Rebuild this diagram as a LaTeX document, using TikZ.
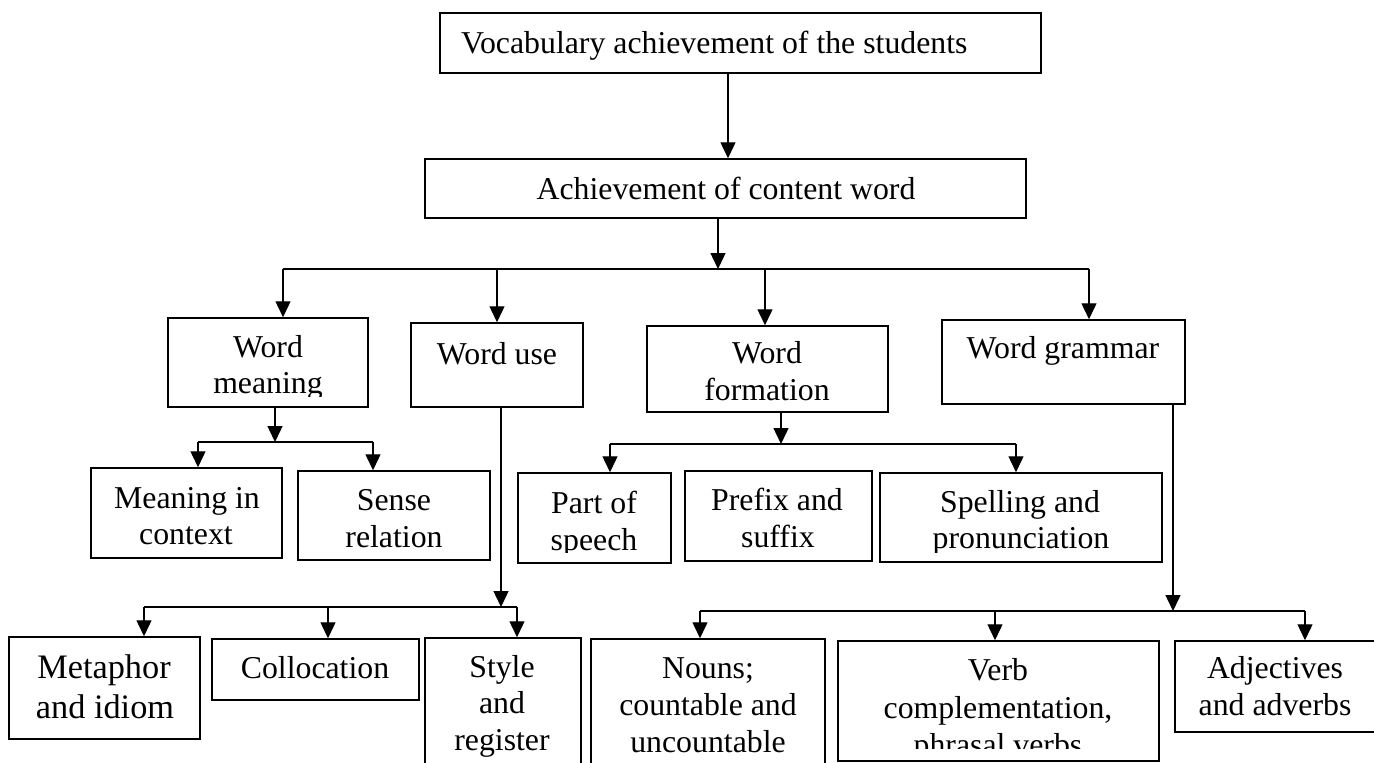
\documentclass[tikz,border=0pt]{standalone}
\usepackage{fontspec}
\setmainfont{Liberation Serif}
\usetikzlibrary{arrows.meta}
\tikzset{
  box/.style={draw, line width=1.5pt, rectangle, inner sep=0pt},
  txt/.style={inner sep=0pt, anchor=base, font=\fontsize{31.8}{36}\selectfont},
  bigtxt/.style={inner sep=0pt, anchor=base, font=\fontsize{34.3}{40}\selectfont},
  ln/.style={line width=1.4pt},
  arr/.style={line width=1.4pt, -{Triangle[length=16pt,width=15pt]}},
}
\begin{document}
\begin{tikzpicture}[x=1pt,y=-1pt]
\useasboundingbox (0,0) rectangle (1374,763);
\clip (0,0) rectangle (1374,763);
\fill[white] (0,0) rectangle (1374,763);

% ---------- boxes ----------
\node[box, minimum width=601pt, minimum height=60pt] (vocab) at (740.5,43) {};
\node[box, minimum width=601pt, minimum height=59pt] (ach) at (725.5,188.5) {};
\node[box, minimum width=200pt, minimum height=89pt] (wm) at (268,362.5) {};
\node[box, minimum width=172pt, minimum height=84pt] (wu) at (497,365) {};
\node[box, minimum width=241pt, minimum height=86pt] (wf) at (767.5,369) {};
\node[box, minimum width=243pt, minimum height=84pt] (wg) at (1063.5,362) {};
\node[box, minimum width=191pt, minimum height=90pt] (mic) at (186.5,513) {};
\node[box, minimum width=192pt, minimum height=89pt] (sr) at (394,515.5) {};
\node[box, minimum width=153pt, minimum height=90pt] (pos) at (594.5,518) {};
\node[box, minimum width=187pt, minimum height=90pt] (pfx) at (778.5,516) {};
\node[box, minimum width=282pt, minimum height=89pt] (sp) at (1021,517.5) {};
\node[box, minimum width=191pt, minimum height=102pt] (met) at (104.5,688) {};
\node[box, minimum width=207pt, minimum height=61pt] (col) at (315.5,669.5) {};
\node[box, minimum width=156pt, minimum height=142pt] (sty) at (503,709) {};
\node[box, minimum width=234pt, minimum height=141pt] (nou) at (708,709.5) {};
\node[box, minimum width=321pt, minimum height=120pt] (verb) at (998.5,701) {};
\node[box, minimum width=215pt, minimum height=91pt] (adj) at (1282.5,686.5) {};

% ---------- texts ----------
\node[txt, anchor=base west] (vocab-t) at (461,53) {Vocabulary achievement of the students};
\node[txt] (ach-t) at (726,199) {Achievement of content word};
\node[txt] (wm-t1) at (268,357) {Word};
\begin{scope}
  \clip (168,318) rectangle (368,396);
  \node[txt] (wm-t2) at (268,393) {meaning};
\end{scope}
\node[txt] (wu-t) at (497,364) {Word use};
\node[txt] (wf-t1) at (767,363) {Word};
\node[txt] (wf-t2) at (767,400) {formation};
\node[txt] (wg-t) at (1063,358) {Word grammar};
\node[txt] (mic-t1) at (187,508) {Meaning in};
\node[txt] (mic-t2) at (186,544) {context};
\node[txt] (sr-t1) at (394,510) {Sense};
\node[txt] (sr-t2) at (394,547) {relation};
\node[txt] (pos-t1) at (594,513) {Part of};
\begin{scope}
  \clip (518,473) rectangle (671,552);
  \node[txt] (pos-t2) at (594,550) {speech};
\end{scope}
\node[txt] (pfx-t1) at (777,510) {Prefix and};
\node[txt] (pfx-t2) at (778,547) {suffix};
\node[txt] (sp-t1) at (1020,512) {Spelling and};
\begin{scope}
  \clip (880,473) rectangle (1162,552);
  \node[txt] (sp-t2) at (1021,548) {pronunciation};
\end{scope}
\node[bigtxt] (met-t1) at (104,678) {Metaphor};
\node[bigtxt] (met-t2) at (105,718) {and idiom};
\node[txt] (col-t) at (315,678) {Collocation};
\node[txt] (sty-t1) at (502,677) {Style};
\node[txt] (sty-t2) at (502,713) {and};
\node[txt] (sty-t3) at (502,750) {register};
\node[txt] (nou-t1) at (708,678) {Nouns;};
\node[txt] (nou-t2) at (708,715) {countable and};
\node[txt] (nou-t3) at (708,752) {uncountable};
\node[txt] (verb-t1) at (998,680) {Verb};
\node[txt] (verb-t2) at (998,718) {complementation,};
\begin{scope}
  \clip (838,641) rectangle (1159,748);
  \node[txt] (verb-t3) at (998,755) {phrasal verbs};
\end{scope}
\node[txt] (adj-t1) at (1275,678) {Adjectives};
\node[txt] (adj-t2) at (1275,715) {and adverbs};

% ---------- connectors ----------
\coordinate (x0) at (728,0);
\draw[arr] (vocab.south -| x0) -- (ach.north -| x0);

% level 1 bus
\coordinate (b1) at (718,269);
\coordinate (b1a) at (283,269);
\coordinate (b1b) at (497,269);
\coordinate (b1c) at (765,269);
\coordinate (b1d) at (1089,269);
\draw[arr] (ach.south -| b1) -- (b1);
\draw[ln] (b1a) -- (b1d);
\draw[arr] (b1a) -- (wm.north -| b1a);
\draw[arr] (b1b) -- (wu.north -| b1b);
\draw[arr] (b1c) -- (wf.north -| b1c);
\draw[arr] (b1d) -- (wg.north -| b1d);

% word meaning
\coordinate (b2) at (275,442);
\coordinate (b2a) at (198,442);
\coordinate (b2b) at (373,442);
\draw[arr] (wm.south -| b2) -- (b2);
\draw[ln] (b2a) -- (b2b);
\draw[arr] (b2a) -- (mic.north -| b2a);
\draw[arr] (b2b) -- (sr.north -| b2b);

% word formation
\coordinate (b4) at (781,444);
\coordinate (b4a) at (610,444);
\coordinate (b4b) at (1016,444);
\draw[arr] (wf.south -| b4) -- (b4);
\draw[ln] (b4a) -- (b4b);
\draw[arr] (b4a) -- (pos.north -| b4a);
\draw[arr] (b4b) -- (sp.north -| b4b);

% word use
\coordinate (b3) at (501,607);
\coordinate (b3a) at (144,607);
\coordinate (b3b) at (328,607);
\coordinate (b3c) at (517,607);
\draw[arr] (wu.south -| b3) -- (b3);
\draw[ln] (b3a) -- (b3c);
\draw[arr] (b3a) -- (met.north -| b3a);
\draw[arr] (b3b) -- (col.north -| b3b);
\draw[arr] (b3c) -- (sty.north -| b3c);

% word grammar
\coordinate (b5) at (1173,611);
\coordinate (b5a) at (700,611);
\coordinate (b5b) at (995,611);
\coordinate (b5c) at (1305,611);
\draw[arr] (wg.south -| b5) -- (b5);
\draw[ln] (b5a) -- (b5c);
\draw[arr] (b5a) -- (nou.north -| b5a);
\draw[arr] (b5b) -- (verb.north -| b5b);
\draw[arr] (b5c) -- (adj.north -| b5c);
\end{tikzpicture}
\end{document}
